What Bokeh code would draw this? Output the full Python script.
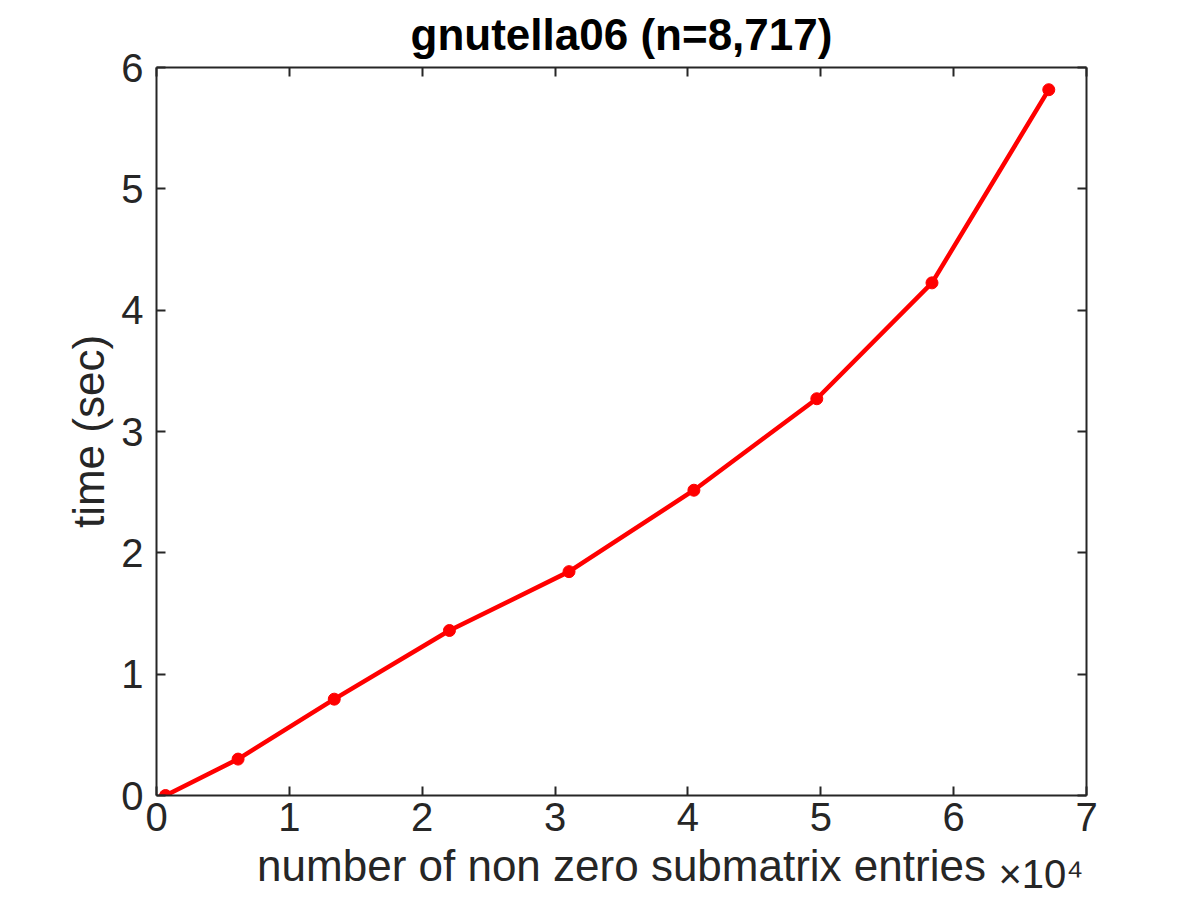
from bokeh.plotting import figure
from bokeh.models import LinearAxis, Range1d, FixedTicker, Title
from bokeh.embed import file_html
from bokeh.resources import INLINE

nnz_1e4 = [0.068, 0.614, 1.338, 2.205, 3.105, 4.045, 4.97, 5.837, 6.716]
time_sec = [0.0, 0.30, 0.794, 1.36, 1.845, 2.516, 3.27, 4.225, 5.817]
x_ticks = [0, 1, 2, 3, 4, 5, 6, 7]
y_ticks = [0, 1, 2, 3, 4, 5, 6]

FONT = "Liberation Sans"
TXT = "#262626"

p = figure(width=1192, height=892, output_backend="svg", toolbar_location=None,
           x_range=Range1d(0, 7), y_range=Range1d(0, 6),
           x_axis_location=None, y_axis_location=None,
           min_border_left=156, min_border_right=106, min_border_top=67, min_border_bottom=95)
p.grid.visible = False
p.outline_line_color = None
p.background_fill_color = "white"
p.border_fill_color = "white"

def style(ax, labels=True):
    ax.axis_line_color = TXT
    ax.axis_line_width = 2
    ax.major_tick_line_color = TXT
    ax.major_tick_line_width = 2
    ax.major_tick_in = 9
    ax.major_tick_out = 0
    ax.minor_tick_line_color = None
    ax.major_label_text_font = FONT
    ax.major_label_text_font_size = "40px"
    ax.major_label_text_color = TXT
    ax.axis_label_text_font = FONT
    ax.axis_label_text_font_size = "44px"
    ax.axis_label_text_font_style = "normal"
    ax.axis_label_text_color = TXT
    if not labels:
        ax.major_label_text_font_size = "0px"
        ax.major_label_text_color = None
        ax.major_label_standoff = 0

xb = LinearAxis(ticker=FixedTicker(ticks=x_ticks), axis_label="number of non zero submatrix entries")
style(xb)
xb.major_label_standoff = 7
xb.axis_label_standoff = 7
p.add_layout(xb, "below")

yl = LinearAxis(ticker=FixedTicker(ticks=y_ticks), axis_label="time (sec)")
style(yl)
yl.major_label_standoff = 13
yl.axis_label_standoff = 5
p.add_layout(yl, "left")

xt = LinearAxis(ticker=FixedTicker(ticks=x_ticks))
style(xt, labels=False)
p.add_layout(xt, "above")

yr = LinearAxis(ticker=FixedTicker(ticks=y_ticks))
style(yr, labels=False)
p.add_layout(yr, "right")

p.title.text = "gnutella06 (n=8,717)"
p.title.align = "center"
p.title.vertical_align = "middle"
p.title.text_font = FONT
p.title.text_font_size = "44px"
p.title.text_font_style = "bold"
p.title.text_color = "black"
p.title.standoff = 16

p.line(nnz_1e4, time_sec, line_color="#ff0000", line_width=4.5)
p.scatter(nnz_1e4, time_sec, size=12, fill_color="#ff0000", line_color="#ff0000")

exp_title = Title(text="\u00d710\u2074", align="right", vertical_align="top",
                  offset=3, standoff=-82, text_font=FONT, text_font_size="40px",
                  text_font_style="normal", text_color=TXT)
p.add_layout(exp_title, "below")

open("out.html", "w").write(file_html(p, INLINE))
